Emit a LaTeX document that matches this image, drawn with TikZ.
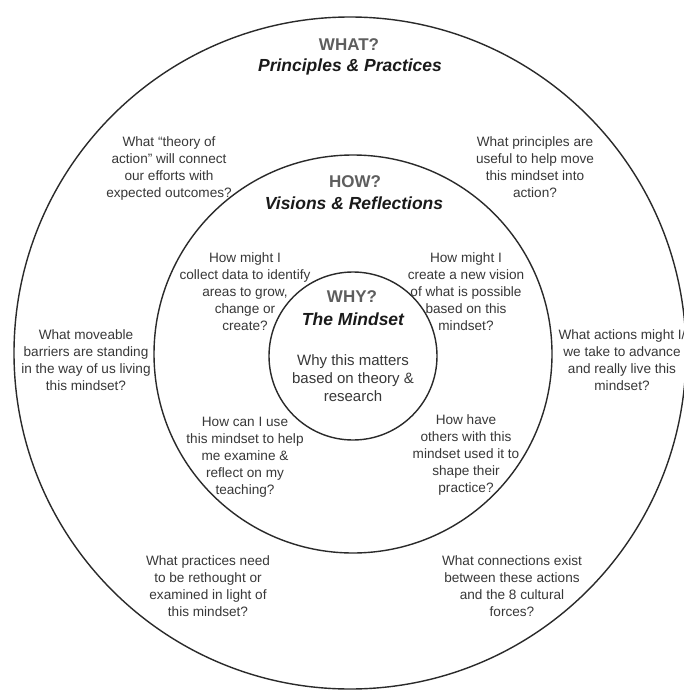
\documentclass[tikz,border=0pt]{standalone}
\usepackage{fontspec}
\setmainfont{Liberation Sans}
\definecolor{ringline}{HTML}{2A2A2A}
\definecolor{headgray}{HTML}{5E5E5E}
\definecolor{subblack}{HTML}{1A1A1A}
\definecolor{bodygray}{HTML}{383838}
\begin{document}
\begin{tikzpicture}[x=1pt,y=-1pt,
  ring/.style={circle, draw=ringline, line width=1.4pt, inner sep=0pt, outer sep=0pt},
  head/.style={font=\fontsize{17}{20}\selectfont\bfseries, text=headgray, inner sep=0pt},
  sub/.style={font=\fontsize{17.5}{20}\selectfont\bfseries\itshape, text=subblack, inner sep=0pt},
  body/.style={font=\fontsize{13.6}{17}\selectfont, text=bodygray, align=center, inner sep=0pt},
  core/.style={font=\fontsize{15}{18}\selectfont, text=bodygray, align=center, inner sep=0pt}]
\useasboundingbox (0,0) rectangle (684,690);
\clip (0,0) rectangle (684,690);
\fill[white] (0,0) rectangle (684,690);

% rings
\node[ring, minimum size=672pt] (outer) at (350,353) {};
\node[ring, minimum size=398pt] (middle) at (353,354) {};
\node[ring, minimum size=168pt] (inner) at (353,356) {};

% headings
\node[head] (whatT) at (349,45) {WHAT?};
\node[sub]  (whatS) at (350,67) {Principles \& Practices};
\node[head] (howT) at (355,182) {HOW?};
\node[sub]  (howS) at (354,203) {Visions \& Reflections};
\node[head] (whyT) at (352,297) {WHY?};
\node[sub]  (whyS) at (353,319) {The Mindset};
\node[core] (whyB) at (353,378) {Why this matters\\based on theory \&\\research};

% outer ring questions
\node[body] (q1) at (169,168) {What “theory of\\action” will connect\\our efforts with\\expected outcomes?};
\node[body] (q2) at (535,167) {What principles are\\useful to help move\\this mindset into\\action?};
\node[body] (q3) at (86,360) {What moveable\\barriers are standing\\in the way of us living\\this mindset?};
\node[body] (q4) at (622,360) {What actions might I/\\we take to advance\\and really live this\\mindset?};
\node[body] (q5) at (208,586) {What practices need\\to be rethought or\\examined in light of\\this mindset?};
\node[body] (q6) at (512,586) {What connections exist\\between these actions\\and the 8 cultural\\forces?};

% middle ring questions
\node[body] (m1) at (245,292) {How might I\\collect data to identify\\areas to grow,\\change or\\create?};
\node[body] (m2) at (466,292) {How might I\\create a new vision\\of what is possible\\based on this\\mindset?};
\node[body] (m3) at (245,457) {How can I use\\this mindset to help\\me examine \&\\reflect on my\\teaching?};
\node[body] (m4) at (466,455) {How have\\others with this\\mindset used it to\\shape their\\practice?};
\end{tikzpicture}
\end{document}
